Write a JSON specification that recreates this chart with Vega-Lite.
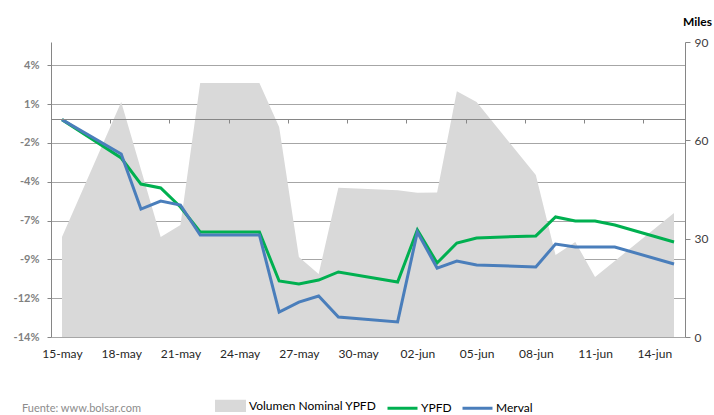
{
  "$schema": "https://vega.github.io/schema/vega-lite/v6.json",
  "width": 634,
  "height": 295,
  "autosize": {"type": "none"},
  "padding": {"left": 51, "top": 42, "right": 29, "bottom": 78},
  "background": "white",
  "config": {
    "font": "Lato",
    "view": {"stroke": null},
    "axis": {"labelFont": "Lato", "titleFont": "Lato"},
    "legend": {"labelFont": "Lato", "titleFont": "Lato"}
  },
  "datasets": {
    "vol": [
      {"fecha": "2015-05-15", "serie": "Volumen Nominal YPFD", "vol": 30.5},
      {"fecha": "2015-05-18", "serie": "Volumen Nominal YPFD", "vol": 71.7},
      {"fecha": "2015-05-19", "serie": "Volumen Nominal YPFD", "vol": 51.1},
      {"fecha": "2015-05-20", "serie": "Volumen Nominal YPFD", "vol": 30.5},
      {"fecha": "2015-05-21", "serie": "Volumen Nominal YPFD", "vol": 34.2},
      {"fecha": "2015-05-22", "serie": "Volumen Nominal YPFD", "vol": 77.5},
      {"fecha": "2015-05-25", "serie": "Volumen Nominal YPFD", "vol": 77.5},
      {"fecha": "2015-05-26", "serie": "Volumen Nominal YPFD", "vol": 64.1},
      {"fecha": "2015-05-27", "serie": "Volumen Nominal YPFD", "vol": 24.4},
      {"fecha": "2015-05-28", "serie": "Volumen Nominal YPFD", "vol": 19.2},
      {"fecha": "2015-05-29", "serie": "Volumen Nominal YPFD", "vol": 45.5},
      {"fecha": "2015-06-01", "serie": "Volumen Nominal YPFD", "vol": 44.8},
      {"fecha": "2015-06-02", "serie": "Volumen Nominal YPFD", "vol": 44.0},
      {"fecha": "2015-06-03", "serie": "Volumen Nominal YPFD", "vol": 44.1},
      {"fecha": "2015-06-04", "serie": "Volumen Nominal YPFD", "vol": 75.0},
      {"fecha": "2015-06-05", "serie": "Volumen Nominal YPFD", "vol": 71.7},
      {"fecha": "2015-06-08", "serie": "Volumen Nominal YPFD", "vol": 49.4},
      {"fecha": "2015-06-09", "serie": "Volumen Nominal YPFD", "vol": 25.0},
      {"fecha": "2015-06-10", "serie": "Volumen Nominal YPFD", "vol": 29.0},
      {"fecha": "2015-06-11", "serie": "Volumen Nominal YPFD", "vol": 18.3},
      {"fecha": "2015-06-12", "serie": "Volumen Nominal YPFD", "vol": 23.2},
      {"fecha": "2015-06-15", "serie": "Volumen Nominal YPFD", "vol": 37.8}
    ],
    "ret": [
      {"fecha": "2015-05-15", "serie": "YPFD", "pct": 0.0},
      {"fecha": "2015-05-18", "serie": "YPFD", "pct": -2.47},
      {"fecha": "2015-05-19", "serie": "YPFD", "pct": -4.15},
      {"fecha": "2015-05-20", "serie": "YPFD", "pct": -4.40},
      {"fecha": "2015-05-21", "serie": "YPFD", "pct": -5.63},
      {"fecha": "2015-05-22", "serie": "YPFD", "pct": -7.24},
      {"fecha": "2015-05-25", "serie": "YPFD", "pct": -7.24},
      {"fecha": "2015-05-26", "serie": "YPFD", "pct": -10.39},
      {"fecha": "2015-05-27", "serie": "YPFD", "pct": -10.59},
      {"fecha": "2015-05-28", "serie": "YPFD", "pct": -10.33},
      {"fecha": "2015-05-29", "serie": "YPFD", "pct": -9.81},
      {"fecha": "2015-06-01", "serie": "YPFD", "pct": -10.46},
      {"fecha": "2015-06-02", "serie": "YPFD", "pct": -7.11},
      {"fecha": "2015-06-03", "serie": "YPFD", "pct": -9.23},
      {"fecha": "2015-06-04", "serie": "YPFD", "pct": -7.95},
      {"fecha": "2015-06-05", "serie": "YPFD", "pct": -7.62},
      {"fecha": "2015-06-08", "serie": "YPFD", "pct": -7.49},
      {"fecha": "2015-06-09", "serie": "YPFD", "pct": -6.27},
      {"fecha": "2015-06-10", "serie": "YPFD", "pct": -6.53},
      {"fecha": "2015-06-11", "serie": "YPFD", "pct": -6.53},
      {"fecha": "2015-06-12", "serie": "YPFD", "pct": -6.79},
      {"fecha": "2015-06-15", "serie": "YPFD", "pct": -7.88},
      {"fecha": "2015-05-15", "serie": "Merval", "pct": 0.0},
      {"fecha": "2015-05-18", "serie": "Merval", "pct": -2.21},
      {"fecha": "2015-05-19", "serie": "Merval", "pct": -5.76},
      {"fecha": "2015-05-20", "serie": "Merval", "pct": -5.24},
      {"fecha": "2015-05-21", "serie": "Merval", "pct": -5.50},
      {"fecha": "2015-05-22", "serie": "Merval", "pct": -7.43},
      {"fecha": "2015-05-25", "serie": "Merval", "pct": -7.43},
      {"fecha": "2015-05-26", "serie": "Merval", "pct": -12.39},
      {"fecha": "2015-05-27", "serie": "Merval", "pct": -11.75},
      {"fecha": "2015-05-28", "serie": "Merval", "pct": -11.36},
      {"fecha": "2015-05-29", "serie": "Merval", "pct": -12.71},
      {"fecha": "2015-06-01", "serie": "Merval", "pct": -13.03},
      {"fecha": "2015-06-02", "serie": "Merval", "pct": -7.24},
      {"fecha": "2015-06-03", "serie": "Merval", "pct": -9.56},
      {"fecha": "2015-06-04", "serie": "Merval", "pct": -9.11},
      {"fecha": "2015-06-05", "serie": "Merval", "pct": -9.36},
      {"fecha": "2015-06-08", "serie": "Merval", "pct": -9.49},
      {"fecha": "2015-06-09", "serie": "Merval", "pct": -8.01},
      {"fecha": "2015-06-10", "serie": "Merval", "pct": -8.20},
      {"fecha": "2015-06-11", "serie": "Merval", "pct": -8.20},
      {"fecha": "2015-06-12", "serie": "Merval", "pct": -8.20},
      {"fecha": "2015-06-15", "serie": "Merval", "pct": -9.30}
    ]
  },
  "layer": [
    {
      "data": {"name": "vol"},
      "mark": {"type": "area", "opacity": 1},
      "encoding": {
        "x": {
          "field": "fecha", "type": "temporal",
          "scale": {"type": "utc", "domain": [
            {"year": 2015, "month": 5, "date": 14, "hours": 10, "minutes": 39, "utc": true},
            {"year": 2015, "month": 6, "date": 15, "hours": 13, "minutes": 21, "utc": true}
          ]},
          "axis": {
            "orient": "bottom", "offset": -218, "labels": false, "title": null, "grid": false,
            "domainColor": "#868686", "domainWidth": 1, "tickColor": "#868686", "tickSize": 4, "tickWidth": 1,
            "zindex": 1,
            "values": [
              {"year": 2015, "month": 5, "date": 17, "hours": 10, "minutes": 39, "utc": true},
              {"year": 2015, "month": 5, "date": 20, "hours": 10, "minutes": 39, "utc": true},
              {"year": 2015, "month": 5, "date": 23, "hours": 10, "minutes": 39, "utc": true},
              {"year": 2015, "month": 5, "date": 26, "hours": 10, "minutes": 39, "utc": true},
              {"year": 2015, "month": 5, "date": 29, "hours": 10, "minutes": 39, "utc": true},
              {"year": 2015, "month": 6, "date": 1, "hours": 10, "minutes": 39, "utc": true},
              {"year": 2015, "month": 6, "date": 4, "hours": 10, "minutes": 39, "utc": true},
              {"year": 2015, "month": 6, "date": 7, "hours": 10, "minutes": 39, "utc": true},
              {"year": 2015, "month": 6, "date": 10, "hours": 10, "minutes": 39, "utc": true},
              {"year": 2015, "month": 6, "date": 13, "hours": 10, "minutes": 39, "utc": true}
            ]
          }
        },
        "y": {
          "field": "vol", "type": "quantitative",
          "scale": {"domain": [0, 90], "nice": false, "zero": true},
          "axis": {
            "orient": "right", "values": [0, 30, 60, 90], "grid": false,
            "title": "Miles", "titleAngle": 0, "titleX": 12, "titleY": -14, "titleAlign": "center", "titleBaseline": "bottom",
            "titleFontSize": 12, "titleFontWeight": "bold", "titleColor": "#000000",
            "labelFontSize": 12, "labelColor": "#404040", "labelPadding": 4,
            "domainColor": "#868686", "tickColor": "#868686", "tickSize": 5
          }
        },
        "color": {
          "field": "serie", "type": "nominal",
          "scale": {"domain": ["Volumen Nominal YPFD", "YPFD", "Merval"], "range": ["#d9d9d9", "#00b050", "#4a7ebb"]},
          "legend": {
            "orient": "none", "legendX": -29, "legendY": 347, "direction": "horizontal",
            "title": "Fuente: www.bolsar.com", "titleOrient": "left", "titlePadding": 72,
            "titleFontSize": 11, "titleFontWeight": "normal", "titleColor": "#8c8c8c", "titleBaseline": "top", "titleAnchor": "middle",
            "labelFontSize": 12, "labelColor": "#000000", "symbolSize": 900, "symbolType": "stroke",
            "symbolStrokeWidth": 3, "columnPadding": 4, "labelOffset": 2,
            "encoding": {
              "symbols": {
                "shape": {"value": {"expr": "datum.value === 'Volumen Nominal YPFD' ? 'M-1,-0.33H1V0.33H-1Z' : 'stroke'"}},
                "fill": {"value": {"expr": "datum.value === 'Volumen Nominal YPFD' ? '#d9d9d9' : 'transparent'"}},
                "stroke": {"value": {"expr": "datum.value === 'Volumen Nominal YPFD' ? 'transparent' : scale('color', datum.value)"}},
                "size": {"value": {"expr": "datum.value === 'Volumen Nominal YPFD' ? 784 : 900"}}
              }
            }
          }
        }
      }
    },
    {
      "data": {"name": "ret"},
      "mark": {"type": "line", "strokeWidth": 3},
      "encoding": {
        "x": {
          "field": "fecha", "type": "temporal",
          "axis": {
            "orient": "bottom", "title": null, "grid": false, "domain": false, "ticks": false,
            "labelFontSize": 12, "labelColor": "#262626", "labelPadding": 11,
            "labelExpr": "lower(utcFormat(datum.value, '%d-%b'))",
            "values": [
              {"year": 2015, "month": 5, "date": 15, "utc": true},
              {"year": 2015, "month": 5, "date": 18, "utc": true},
              {"year": 2015, "month": 5, "date": 21, "utc": true},
              {"year": 2015, "month": 5, "date": 24, "utc": true},
              {"year": 2015, "month": 5, "date": 27, "utc": true},
              {"year": 2015, "month": 5, "date": 30, "utc": true},
              {"year": 2015, "month": 6, "date": 2, "utc": true},
              {"year": 2015, "month": 6, "date": 5, "utc": true},
              {"year": 2015, "month": 6, "date": 8, "utc": true},
              {"year": 2015, "month": 6, "date": 11, "utc": true},
              {"year": 2015, "month": 6, "date": 14, "utc": true}
            ]
          }
        },
        "y": {
          "field": "pct", "type": "quantitative",
          "scale": {"domain": [-14, 5], "nice": false, "zero": false},
          "axis": {
            "orient": "left", "title": null,
            "values": [-14, -11.5, -9, -6.5, -4, -1.5, 1, 3.5],
            "labelExpr": "(datum.value < 0 ? '-' : '') + round(abs(datum.value)) + '%'",
            "labelFontSize": 11, "labelFontWeight": "bold", "labelColor": "#808080", "labelPadding": 8,
            "grid": true, "gridColor": "#a6a6a6", "gridWidth": 1,
            "domainColor": "#868686", "tickColor": "#868686", "tickSize": 4
          }
        },
        "color": {"field": "serie", "type": "nominal"}
      }
    }
  ],
  "resolve": {"scale": {"y": "independent"}, "axis": {"x": "independent", "y": "independent"}}
}
